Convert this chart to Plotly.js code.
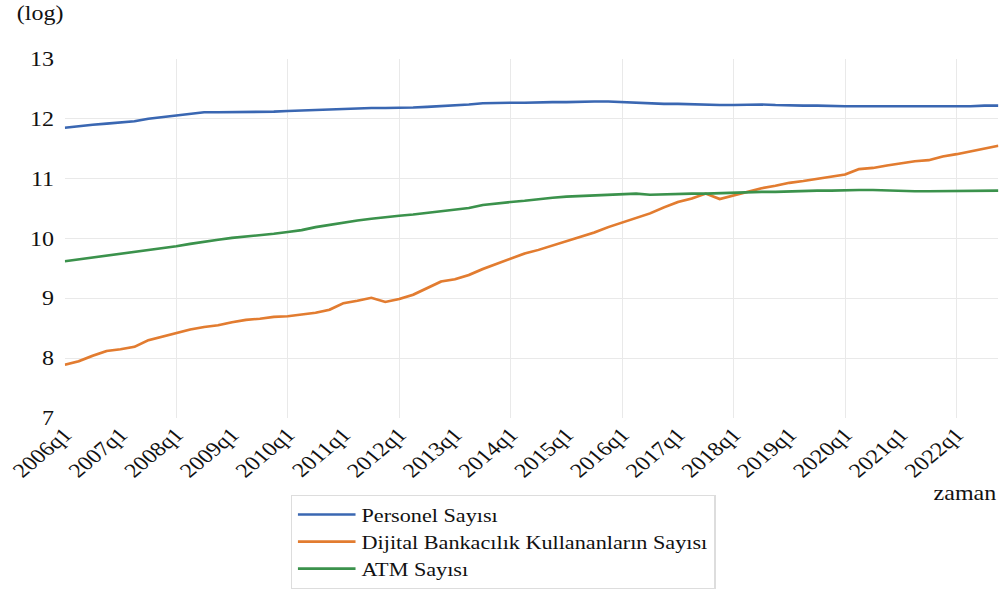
<!DOCTYPE html>
<html>
<head>
<meta charset="utf-8">
<script src="https://cdn.plot.ly/plotly-3.0.1.min.js"></script>
<style>
  html, body { margin: 0; padding: 0; background: #fff; overflow: hidden; }
  #wrap { width: 1008px; height: 592px; overflow: hidden; }
  #chart { width: 840px; height: 592px; transform: scaleX(1.2); transform-origin: 0 0; }
</style>
</head>
<body>
<div id="wrap"><div id="chart"></div></div>
<script>
// ---- Data (log values, quarterly 2006q1 - 2022q4) ----
var quarters = [
  "2006q1","2006q2","2006q3","2006q4","2007q1","2007q2","2007q3","2007q4",
  "2008q1","2008q2","2008q3","2008q4","2009q1","2009q2","2009q3","2009q4",
  "2010q1","2010q2","2010q3","2010q4","2011q1","2011q2","2011q3","2011q4",
  "2012q1","2012q2","2012q3","2012q4","2013q1","2013q2","2013q3","2013q4",
  "2014q1","2014q2","2014q3","2014q4","2015q1","2015q2","2015q3","2015q4",
  "2016q1","2016q2","2016q3","2016q4","2017q1","2017q2","2017q3","2017q4",
  "2018q1","2018q2","2018q3","2018q4","2019q1","2019q2","2019q3","2019q4",
  "2020q1","2020q2","2020q3","2020q4","2021q1","2021q2","2021q3","2021q4",
  "2022q1","2022q2","2022q3","2022q4"
];

var personel = [
  11.85, 11.88, 11.90, 11.92, 11.94, 11.96, 12.00, 12.03, 12.06, 12.09,
  12.11, 12.11, 12.11, 12.11, 12.11, 12.12, 12.13, 12.14, 12.15, 12.16,
  12.17, 12.17, 12.18, 12.18, 12.18, 12.19, 12.20, 12.21, 12.22, 12.24,
  12.26, 12.27, 12.27, 12.27, 12.28, 12.28, 12.28, 12.29, 12.29, 12.29,
  12.28, 12.27, 12.25, 12.25, 12.25, 12.24, 12.24, 12.23, 12.23, 12.24,
  12.24, 12.23, 12.22, 12.22, 12.22, 12.21, 12.21, 12.21, 12.21, 12.21,
  12.21, 12.20, 12.20, 12.20, 12.20, 12.21, 12.22, 12.22
];

var dijital = [
  7.89, 7.95, 8.04, 8.12, 8.15, 8.19, 8.30, 8.36, 8.43, 8.48,
  8.52, 8.55, 8.60, 8.64, 8.66, 8.69, 8.70, 8.73, 8.76, 8.81,
  8.92, 8.96, 9.01, 8.94, 8.99, 9.06, 9.17, 9.28, 9.32, 9.39,
  9.49, 9.58, 9.66, 9.75, 9.81, 9.88, 9.96, 10.03, 10.10, 10.19,
  10.27, 10.34, 10.42, 10.52, 10.61, 10.67, 10.75, 10.66, 10.72, 10.77,
  10.84, 10.88, 10.93, 10.96, 11.00, 11.03, 11.07, 11.16, 11.18, 11.22,
  11.26, 11.29, 11.31, 11.37, 11.41, 11.46, 11.51, 11.55
];

var atm = [
  9.62, 9.65, 9.68, 9.71, 9.74, 9.77, 9.80, 9.83, 9.87, 9.91,
  9.95, 9.98, 10.01, 10.03, 10.05, 10.08, 10.11, 10.14, 10.19, 10.23,
  10.26, 10.30, 10.33, 10.36, 10.38, 10.40, 10.43, 10.45, 10.48, 10.51,
  10.56, 10.59, 10.61, 10.63, 10.66, 10.68, 10.70, 10.71, 10.72, 10.74,
  10.75, 10.75, 10.73, 10.74, 10.74, 10.75, 10.75, 10.76, 10.76, 10.77,
  10.78, 10.78, 10.79, 10.79, 10.80, 10.80, 10.81, 10.81, 10.81, 10.80,
  10.79, 10.79, 10.79, 10.79, 10.79, 10.79, 10.79, 10.80
];

var seriesNames = ["Personel Sayısı", "Dijital Bankacılık Kullananların Sayısı", "ATM Sayısı"];
var seriesColors = ["#3a67b2", "#e27c30", "#3b924c"];
var yTicks = [7, 8, 9, 10, 11, 12, 13];

// ---- Derived axis helpers ----
var xIdx = quarters.map(function (q, i) { return i; });
var labelIdx = [], labelText = [], gridIdx = [];
quarters.forEach(function (q, i) {
  if (q.slice(-2) === "q1") {
    labelIdx.push(i); labelText.push(q);
    var yr = parseInt(q.slice(0, 4), 10);
    if (i > 0 && yr % 2 === 0) gridIdx.push(i);
  }
});

var FONT = "Times New Roman, Liberation Serif, DejaVu Serif, serif";
var values = [personel, dijital, atm];

var traces = values.map(function (v, k) {
  return {
    x: xIdx, y: v, type: "scatter", mode: "lines",
    name: seriesNames[k],
    line: { color: seriesColors[k], width: 2.6 },
    xaxis: "x", yaxis: "y"
  };
});
// empty helper trace so the label axis is drawn
traces.push({ x: [], y: [], type: "scatter", mode: "lines", xaxis: "x2", yaxis: "y",
              showlegend: false, hoverinfo: "skip" });

var xRange = [0, quarters.length - 1];

var layout = {
  width: 840, height: 592,
  paper_bgcolor: "#ffffff", plot_bgcolor: "#ffffff",
  margin: { l: 54, r: 8, t: 59, b: 174, autoexpand: false },
  font: { family: FONT, size: 20, color: "#111" },
  showlegend: true,
  xaxis: {
    range: xRange, autorange: false, automargin: false,
    tickmode: "array", tickvals: gridIdx, showticklabels: false,
    showgrid: true, gridcolor: "#e9e9e9", gridwidth: 1,
    zeroline: false, showline: false, ticks: ""
  },
  xaxis2: {
    overlaying: "x", anchor: "y", side: "bottom",
    range: xRange, autorange: false, automargin: false,
    tickmode: "array", tickvals: labelIdx, ticktext: labelText,
    tickangle: -45, tickfont: { family: FONT, size: 20, color: "#111" },
    showgrid: false, zeroline: false, showline: false, ticks: ""
  },
  yaxis: {
    range: [7, 13], autorange: false, automargin: false,
    tickmode: "array", tickvals: yTicks,
    tickfont: { family: FONT, size: 20, color: "#111" },
    showgrid: true, gridcolor: "#e9e9e9", gridwidth: 1,
    zeroline: false, showline: false, ticks: "", ticklabelstandoff: 8
  },
  legend: {
    x: 0.242, xanchor: "left", y: -0.2145, yanchor: "top",
    bgcolor: "#ffffff", bordercolor: "#dddddd", borderwidth: 1,
    itemwidth: 48,
    font: { family: FONT, size: 18.5, color: "#111" }
  },
  annotations: [
    { text: "zaman", xref: "paper", yref: "paper", x: 1, y: -0.209,
      xanchor: "right", yanchor: "middle", showarrow: false,
      font: { family: FONT, size: 20, color: "#111" } },
    { text: "(log)", xref: "paper", yref: "paper", x: -0.054, y: 1.128,
      xanchor: "left", yanchor: "middle", showarrow: false,
      font: { family: FONT, size: 20, color: "#111" } }
  ]
};

Plotly.newPlot("chart", traces, layout, { staticPlot: true, displayModeBar: false });
</script>
</body>
</html>
